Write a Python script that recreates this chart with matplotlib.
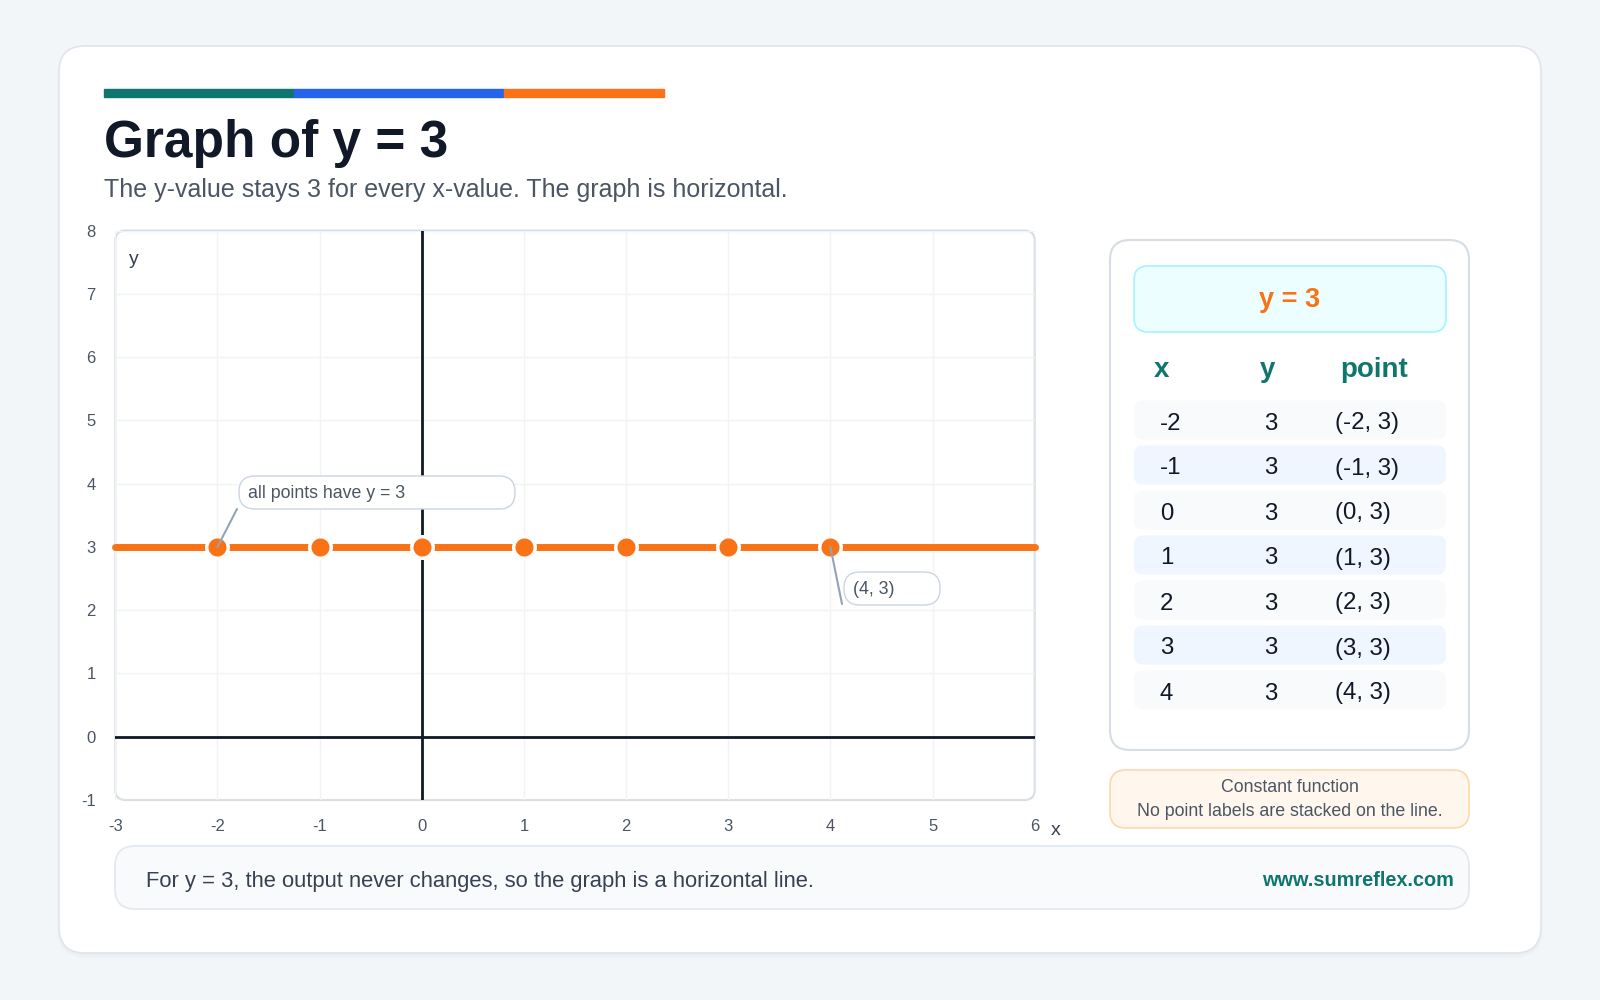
import matplotlib.pyplot as plt
from matplotlib.patches import FancyBboxPatch

plt.rcParams["font.family"] = ["Liberation Sans", "DejaVu Sans"]
plt.rcParams["axes.unicode_minus"] = False

# -----------------------------
# Data
# -----------------------------
x_points = [-2, -1, 0, 1, 2, 3, 4]
y_value = 3
x_ticks = [-3, -2, -1, 0, 1, 2, 3, 4, 5, 6]
y_ticks = [-1, 0, 1, 2, 3, 4, 5, 6, 7, 8]
table_x = ["-2", "-1", "0", "1", "2", "3", "4"]
table_y = ["3", "3", "3", "3", "3", "3", "3"]
table_point = ["(-2, 3)", "(-1, 3)", "(0, 3)", "(1, 3)", "(2, 3)", "(3, 3)", "(4, 3)"]

title = "Graph of y = 3"
subtitle = "The y-value stays 3 for every x-value. The graph is horizontal."
footer = "For y = 3, the output never changes, so the graph is a horizontal line."

# colours
ORANGE = "#f97316"
TEAL = "#0f766e"
BLUE = "#2563eb"
DARK = "#111827"
GREY = "#4b5563"


def rbox(ax, x0, y0, x1, y1, r, fc, ec, lw=1.2, z=1):
    p = FancyBboxPatch((x0, y0), x1 - x0, y1 - y0,
                       boxstyle=f"round,pad=0,rounding_size={r}",
                       fc=fc, ec=ec, lw=lw, zorder=z)
    ax.add_patch(p)
    return p


def pixel_axes(z):
    a = fig.add_axes([0, 0, 1, 1])
    a.set_xlim(0, 1600)
    a.set_ylim(1000, 0)
    a.axis("off")
    a.set_zorder(z)
    a.patch.set_alpha(0)
    return a


fig = plt.figure(figsize=(16, 10), dpi=100)
fig.patch.set_facecolor("#f3f6f8")

# background canvas in pixel coordinates
bg = pixel_axes(0)

# card with soft shadow
for i, a in enumerate([0.025, 0.025, 0.03]):
    rbox(bg, 59 - i, 49 - i + 2, 1541 + i, 953 + i + 3, 28, "#94a3b8", "none", 0, z=0.5)
    bg.patches[-1].set_alpha(a)
rbox(bg, 59, 46, 1541, 953, 26, "white", "#dfe5ec", 1.2, z=1)

# colour bar
bg.add_patch(plt.Rectangle((104, 89), 190, 8, color=TEAL, zorder=2))
bg.add_patch(plt.Rectangle((294, 89), 210, 8, color=BLUE, zorder=2))
bg.add_patch(plt.Rectangle((504, 89), 160, 8, color=ORANGE, zorder=2))

bg.text(104, 157, title, fontsize=37, fontweight="bold", color=DARK,
        va="baseline", ha="left", zorder=3)
bg.text(104, 197, subtitle, fontsize=18, color=GREY,
        va="baseline", ha="left", zorder=3)

# plot frame
px0, px1, py0, py1 = 115.3, 1034.7, 230.6, 800.0
rbox(bg, px0, py0, px1, py1, 10, "white", "#d5dde5", 1.5, z=1.5)

# -----------------------------
# Graph
# -----------------------------
ax = fig.add_axes([px0 / 1600, 1 - py1 / 1000, (px1 - px0) / 1600, (py1 - py0) / 1000])
ax.set_zorder(2)
ax.patch.set_alpha(0)
ax.set_xlim(x_ticks[0], x_ticks[-1])
ax.set_ylim(y_ticks[0], y_ticks[-1])
ax.set_xticks(x_ticks)
ax.set_yticks(y_ticks)
for s in ax.spines.values():
    s.set_visible(False)
ax.grid(True, color="#f1f4f7", lw=1)
ax.set_axisbelow(True)
ax.tick_params(length=0, labelsize=12, labelcolor=GREY)
ax.tick_params(axis="y", pad=14)
ax.tick_params(axis="x", pad=14)

ax.axhline(0, color=DARK, lw=2, zorder=2)
ax.axvline(0, color=DARK, lw=2, zorder=2)

ax.plot([x_ticks[0], x_ticks[-1]], [y_value, y_value], color=ORANGE, lw=5,
        solid_capstyle="round", clip_on=False, zorder=3)
ax.plot(x_points, [y_value] * len(x_points), ls="none", marker="o", ms=15.5,
        mfc=ORANGE, mec="white", mew=2.5, zorder=4, clip_on=False)

ax.text(-2.87, 7.55, "y", fontsize=14, color="#374151", va="center", ha="left")
ax.text(6.16, -1.48, "x", fontsize=14, color="#374151", va="center", ha="left",
        clip_on=False)

# callouts (overlay above the graph)
ov = pixel_axes(3)
rbox(ov, 239, 476, 515, 509, 16, "white", "#cbd5e1", 1.0, z=3)
ov.text(248, 493, "all points have y = 3", fontsize=12.8, color=GREY,
        va="center", ha="left", zorder=4)
ax.annotate("", xy=(x_points[0], y_value), xytext=(237, 509),
            textcoords=bg.transData,
            arrowprops=dict(arrowstyle="-", color="#94a3b8", lw=1.5,
                            shrinkA=0, shrinkB=0), zorder=5)

rbox(ov, 844, 572, 940, 605, 16, "white", "#cbd5e1", 1.0, z=3)
ov.text(853, 590, f"({x_points[-1]}, {y_value})", fontsize=12.8, color=GREY,
        va="center", ha="left", zorder=4)
ax.annotate("", xy=(x_points[-1], y_value), xytext=(842, 604),
            textcoords=bg.transData,
            arrowprops=dict(arrowstyle="-", color="#94a3b8", lw=1.5,
                            shrinkA=0, shrinkB=0), zorder=5)

# -----------------------------
# Right panel (table)
# -----------------------------
rbox(bg, 1110, 240, 1469, 750, 20, "white", "#d5dde5", 1.5, z=2)
rbox(bg, 1134, 266, 1446, 332, 14, "#ecfeff", "#a5f3fc", 1.2, z=3)
bg.text(1290, 300, "y = 3", fontsize=19.5, fontweight="bold", color=ORANGE,
        ha="center", va="center", zorder=4)

bg.text(1161, 370, "x", fontsize=20, fontweight="bold", color=TEAL,
        ha="center", va="center", zorder=4)
bg.text(1268, 370, "y", fontsize=20, fontweight="bold", color=TEAL,
        ha="center", va="center", zorder=4)
bg.text(1374, 370, "point", fontsize=20, fontweight="bold", color=TEAL,
        ha="center", va="center", zorder=4)

row_y0 = 420
row_step = 45
for i, (tx, ty, tp) in enumerate(zip(table_x, table_y, table_point)):
    cy = row_y0 + i * row_step
    fc = "#eff6ff" if i % 2 else "#f8fafc"
    rbox(bg, 1134, cy - 19.5, 1446, cy + 19.5, 9, fc, "none", 0, z=3)
    bg.text(1160, cy + 1, tx, fontsize=17.3, color=DARK, ha="left",
            va="center_baseline", zorder=4)
    bg.text(1271, cy + 1, ty, fontsize=17.3, color=DARK, ha="center",
            va="center_baseline", zorder=4)
    bg.text(1335, cy + 1, tp, fontsize=17.3, color=DARK, ha="left",
            va="center_baseline", zorder=4)

# note box
rbox(bg, 1110, 770, 1469, 828, 16, "#fff7ed", "#fed7aa", 1.2, z=2)
bg.text(1290, 787, "Constant function", fontsize=12.8, color=GREY,
        ha="center", va="center", zorder=4)
bg.text(1290, 812, "No point labels are stacked on the line.", fontsize=12.8,
        color=GREY, ha="center", va="center", zorder=4)

# footer
rbox(bg, 115, 846, 1469, 909, 20, "#f8fafc", "#e2e8f0", 1.2, z=2)
bg.text(146, 881, footer, fontsize=15.8, color="#374151",
        ha="left", va="center", zorder=4)
bg.text(1454, 881, "www.sumreflex.com", fontsize=14.3, fontweight="bold",
        color=TEAL, ha="right", va="center", zorder=4)

fig.savefig("out.png", dpi=100, facecolor=fig.get_facecolor())
